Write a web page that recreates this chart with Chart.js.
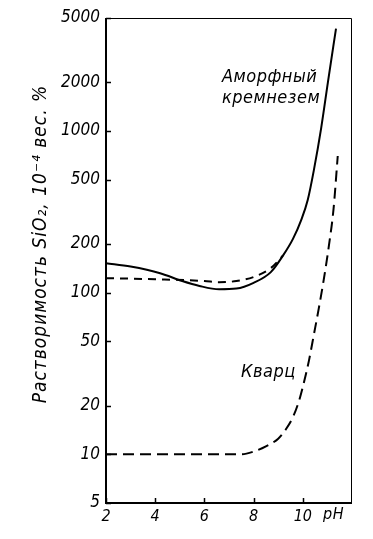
<!DOCTYPE html>
<html>
<head>
<meta charset="utf-8">
<style>
  html, body { margin: 0; padding: 0; background: #fff; }
</style>
<script src="https://cdn.jsdelivr.net/npm/chart.js@4/dist/chart.umd.min.js"></script>
</head>
<body>
<canvas id="chart" width="373" height="539"></canvas>
<script>
// axis ticks
const yTicks = [5, 10, 20, 50, 100, 200, 500, 1000, 2000, 5000];
const xTicks = [2, 4, 6, 8, 10];

// amorphous silica, solid curve
const amorphPh = [2, 3, 4.2, 5.1, 5.8, 6.6, 7.3, 8, 8.7, 9.2, 9.6, 9.95, 10.2, 10.45, 10.75, 11.02, 11.35];
const amorphSol = [152, 145, 132, 118, 110, 105, 106, 115, 134, 170, 215, 285, 374, 573, 1050, 2000, 4300];

// amorphous silica, dashed curve (joins solid near pH 9.2)
const amorphDashPh = [2, 4, 6, 6.6, 7.3, 8, 8.7, 9.2];
const amorphDashSol = [123, 121, 118, 116, 118, 125, 142, 170];

// quartz, dashed curve
const quartzPh = [2, 4, 6, 7.5, 8, 8.5, 9, 9.3, 9.6, 9.85, 10.05, 10.25, 10.45, 10.65, 10.85, 11.05, 11.25, 11.42];
const quartzSol = [10, 10, 10, 10, 10.4, 11.2, 12.5, 14.2, 17, 21.5, 28, 38, 55, 80, 120, 190, 330, 700];

const FONT = '"Liberation Sans Narrow", "DejaVu Sans Condensed", "Liberation Sans", sans-serif';

function pts(xs, ys) {
  return xs.map((x, i) => ({ x: x, y: ys[i] }));
}

const framePlugin = {
  id: 'frame',
  afterDraw(chart) {
    const ctx = chart.ctx;
    const a = chart.chartArea;
    const xs = chart.scales.x, ys = chart.scales.y;
    ctx.save();
    ctx.strokeStyle = '#000';
    // thin top and right border
    ctx.lineWidth = 1;
    ctx.beginPath();
    ctx.moveTo(a.left, a.top + 0.5);
    ctx.lineTo(a.right - 0.5, a.top + 0.5);
    ctx.lineTo(a.right - 0.5, a.bottom);
    ctx.stroke();
    // heavy left and bottom axes
    ctx.lineWidth = 2;
    ctx.beginPath();
    ctx.moveTo(a.left, a.top);
    ctx.lineTo(a.left, a.bottom);
    ctx.lineTo(a.right, a.bottom);
    ctx.stroke();
    // inward tick marks
    ctx.lineWidth = 1.5;
    ctx.beginPath();
    yTicks.forEach(v => {
      const py = Math.round(ys.getPixelForValue(v)) + 0.5;
      ctx.moveTo(a.left, py);
      ctx.lineTo(a.left + 5, py);
    });
    xTicks.forEach(v => {
      const px = Math.round(xs.getPixelForValue(v)) + 0.5;
      ctx.moveTo(px, a.bottom);
      ctx.lineTo(px, a.bottom - 5);
    });
    ctx.stroke();

    // text labels
    ctx.fillStyle = '#000';
    ctx.textBaseline = 'alphabetic';
    ctx.textAlign = 'left';
    ctx.letterSpacing = '0.5px';
    ctx.font = 'italic 18px ' + FONT;
    ctx.fillText('Аморфный', 222, 82);
    ctx.fillText('кремнезем', 222, 103);
    ctx.fillText('Кварц', 241, 377);
    ctx.font = 'italic 16px ' + FONT;
    ctx.fillText('pH', 323, 519);

    // y axis title
    ctx.translate(41, 244);
    ctx.rotate(-Math.PI / 2);
    ctx.textAlign = 'center';
    ctx.textBaseline = 'middle';
    ctx.letterSpacing = '1px';
    ctx.font = 'italic 19px ' + FONT;
    ctx.fillText('Растворимость SiO₂, 10⁻⁴ вес. %', 0, 0);
    ctx.restore();
  }
};

new Chart(document.getElementById('chart'), {
  type: 'line',
  data: {
    datasets: [{
      label: 'Аморфный кремнезем',
      data: pts(amorphPh, amorphSol),
      borderColor: '#000',
      borderWidth: 2,
      pointRadius: 0,
      fill: false,
      cubicInterpolationMode: 'monotone'
    }, {
      label: 'Аморфный кремнезем (пунктир)',
      data: pts(amorphDashPh, amorphDashSol),
      borderColor: '#000',
      borderWidth: 2,
      borderDash: [8, 6],
      pointRadius: 0,
      fill: false,
      cubicInterpolationMode: 'monotone'
    }, {
      label: 'Кварц',
      data: pts(quartzPh, quartzSol),
      borderColor: '#000',
      borderWidth: 2,
      borderDash: [11, 6],
      pointRadius: 0,
      fill: false,
      cubicInterpolationMode: 'monotone'
    }]
  },
  options: {
    responsive: false,
    animation: false,
    layout: { padding: { left: 0, top: 18, right: 21, bottom: 0 } },
    plugins: {
      legend: { display: false },
      tooltip: { enabled: false }
    },
    scales: {
      x: {
        type: 'linear',
        min: 2,
        max: 12,
        grid: { display: false, drawTicks: false },
        border: { display: false },
        afterBuildTicks: s => { s.ticks = xTicks.map(v => ({ value: v })); },
        afterFit: s => { s.height = 36; },
        ticks: {
          color: '#000',
          padding: 4,
          maxRotation: 0,
          font: { family: FONT, size: 16, style: 'italic' }
        }
      },
      y: {
        type: 'logarithmic',
        min: 5,
        max: 5000,
        grid: { display: false, drawTicks: false },
        border: { display: false },
        afterBuildTicks: s => { s.ticks = yTicks.map(v => ({ value: v })); },
        afterFit: s => { s.width = 106; },
        ticks: {
          color: '#000',
          padding: 6,
          callback: v => String(v),
          font: { family: FONT, size: 17, style: 'italic' }
        }
      }
    }
  },
  plugins: [framePlugin]
});
</script>
</body>
</html>
